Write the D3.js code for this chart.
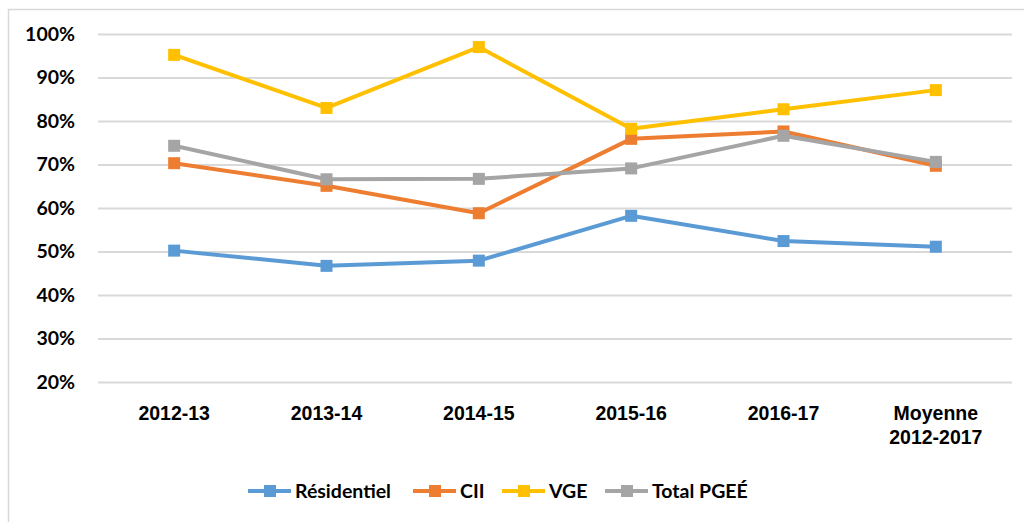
<!DOCTYPE html>
<html>
<head>
<meta charset="utf-8">
<script src="https://cdn.jsdelivr.net/npm/d3@7"></script>
<style>
  body { margin: 0; background: #fff; }
  svg { display: block; font-family: Lato, "Open Sans", sans-serif; font-weight: bold; }
</style>
</head>
<body>
<svg></svg>
<script>
const WIDTH = 1024;
const HEIGHT = 522;
const MARGINS = { left: 98, top: 34, right: 12, bottom: 140 };
const graphWidth = WIDTH - MARGINS.left - MARGINS.right;
const graphHeight = HEIGHT - MARGINS.top - MARGINS.bottom;
const FONT_SIZE = '19.5px';

const categories = ['2012-13', '2013-14', '2014-15', '2015-16', '2016-17', 'Moyenne\n2012-2017'];
const residentiel = [50.2, 46.7, 47.9, 58.2, 52.4, 51.1];
const cii = [70.3, 65.1, 58.8, 75.9, 77.6, 69.7];
const vge = [95.2, 83.0, 97.0, 78.2, 82.7, 87.1];
const totalPgee = [74.3, 66.6, 66.7, 69.1, 76.6, 70.6];
const yTicks = [20, 30, 40, 50, 60, 70, 80, 90, 100];

const series = [
  { name: 'Résidentiel', values: residentiel, color: '#5B9BD5' },
  { name: 'CII', values: cii, color: '#ED7D31' },
  { name: 'VGE', values: vge, color: '#FFC000' },
  { name: 'Total PGEÉ', values: totalPgee, color: '#A5A5A5' }
];

const svg = d3.select('svg').attr('width', WIDTH).attr('height', HEIGHT);

// outer frame (only left + top are visible)
svg.append('rect')
  .attr('x', 8.5).attr('y', 9.5)
  .attr('width', WIDTH + 20).attr('height', HEIGHT + 20)
  .attr('fill', 'none').attr('stroke', '#D9D9D9').attr('stroke-width', 1.5);

const graph = svg.append('g')
  .attr('transform', `translate(${MARGINS.left}, ${MARGINS.top})`);

const x = d3.scaleBand().domain(categories).range([0, graphWidth]);
const y = d3.scaleLinear().domain([20, 100]).range([graphHeight, 0]);

// gridlines + y labels
const yAxis = d3.axisLeft(y)
  .tickValues(yTicks)
  .tickSize(-graphWidth)
  .tickPadding(23)
  .tickFormat((d) => d + '%');
const yAxisGroup = graph.append('g').call(yAxis);
yAxisGroup.select('.domain').remove();
yAxisGroup.selectAll('line').attr('stroke', '#D9D9D9').attr('stroke-width', 2);
yAxisGroup.selectAll('text')
  .attr('fill', '#000').style('font-size', FONT_SIZE).style('font-weight', 'bold')
  .style('font-family', 'Lato, sans-serif');

// x labels
const xAxis = d3.axisBottom(x).tickSize(0).tickPadding(0).tickFormat('');
const xAxisGroup = graph.append('g')
  .attr('transform', `translate(0, ${graphHeight})`)
  .call(xAxis);
xAxisGroup.select('.domain').remove();
xAxisGroup.selectAll('.tick').each(function (d) {
  const lines = d.split('\n');
  const t = d3.select(this).append('text')
    .attr('text-anchor', 'middle')
    .attr('fill', '#000')
    .style('font-size', FONT_SIZE);
  lines.forEach((ln, i) => {
    t.append('tspan').attr('x', 0).attr('y', 38 + i * 24).text(ln);
  });
});

const line = d3.line()
  .x((d, i) => x(categories[i]) + x.bandwidth() / 2)
  .y((d) => y(d));

series.forEach((s) => {
  graph.append('path')
    .datum(s.values)
    .attr('d', line)
    .attr('fill', 'none')
    .attr('stroke', s.color)
    .attr('stroke-width', 4)
    .attr('stroke-linejoin', 'round');
  graph.selectAll(null)
    .data(s.values)
    .enter()
    .append('rect')
    .attr('x', (d, i) => x(categories[i]) + x.bandwidth() / 2 - 6)
    .attr('y', (d) => y(d) - 6)
    .attr('width', 12)
    .attr('height', 12)
    .attr('fill', s.color);
});

// legend
const legendX = [248, 413, 502, 605];
const legend = svg.append('g').attr('transform', 'translate(0, 491)');
series.forEach((s, i) => {
  const g = legend.append('g').attr('transform', `translate(${legendX[i]}, 0)`);
  g.append('line').attr('x1', 0).attr('x2', 43).attr('y1', 0).attr('y2', 0)
    .attr('stroke', s.color).attr('stroke-width', 4);
  g.append('rect').attr('x', 16).attr('y', -6).attr('width', 12).attr('height', 12)
    .attr('fill', s.color);
  g.append('text').attr('x', 47).attr('y', 7)
    .attr('fill', '#000').style('font-size', FONT_SIZE).text(s.name);
});
</script>
</body>
</html>
